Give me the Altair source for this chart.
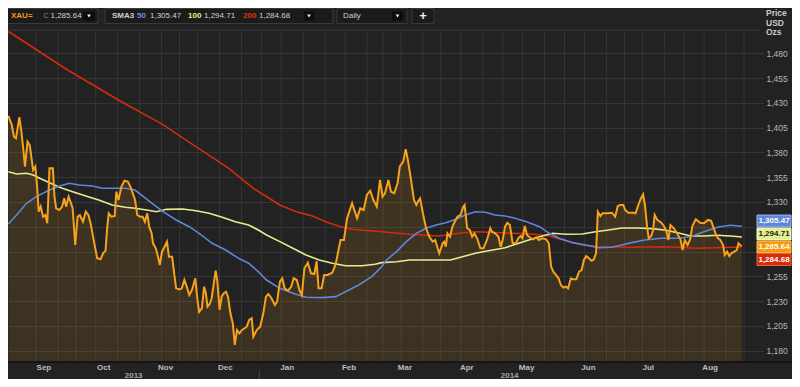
import altair as alt
import pandas as pd

# ---------------- values ----------------
START = pd.Timestamp("2013-08-27")          # day 0 of the "day" offsets below
X_BEGIN, X_END = "2013-08-28", "2014-09-09"  # visible time range
Y_MIN, Y_MAX = 1168.6, 1503.5                # visible price range

# XAU= daily close: (days after START, price)
xau = [
    (1.2, 1416.8), (2.9, 1407.7), (4.0, 1395.9), (5.0, 1394.3), (6.7, 1415.5), (7.8, 1399.6), (8.7, 1382.5), (9.5, 1365.6),
    (10.8, 1390.8), (11.9, 1387.5), (12.8, 1374.1), (13.6, 1362.3), (14.7, 1365.6), (15.6, 1345.4), (16.4, 1320.2), (17.4, 1325.3),
    (18.6, 1315.2), (19.7, 1316.9), (20.7, 1308.5), (21.8, 1364.0), (23.5, 1364.0), (24.3, 1335.4), (25.1, 1323.7), (26.8, 1321.9),
    (28.1, 1325.3), (29.2, 1333.7), (30.1, 1325.3), (31.4, 1335.4), (32.6, 1328.7), (33.4, 1323.7), (34.7, 1286.6), (35.9, 1315.2),
    (37.0, 1316.9), (38.6, 1310.1), (40.0, 1320.2), (41.3, 1316.9), (42.4, 1308.5), (44.1, 1290.0), (45.7, 1273.2), (47.4, 1272.2),
    (48.7, 1278.3), (49.9, 1280.9), (50.7, 1303.5), (51.5, 1318.6), (52.8, 1315.2), (54.5, 1315.9), (55.3, 1340.4), (56.4, 1332.0),
    (57.8, 1345.4), (59.4, 1351.5), (61.1, 1350.5), (62.7, 1343.8), (64.7, 1332.0), (65.8, 1316.9), (67.2, 1315.2), (68.5, 1315.2),
    (69.6, 1310.1), (70.8, 1318.6), (71.8, 1305.1), (73.0, 1298.4), (73.7, 1288.3), (75.1, 1283.3), (76.2, 1274.8), (77.1, 1266.5),
    (78.2, 1279.9), (79.5, 1284.9), (80.7, 1290.0), (81.7, 1274.8), (83.3, 1274.8), (84.5, 1254.7), (85.3, 1242.9), (87.0, 1241.9),
    (88.1, 1242.9), (89.4, 1251.3), (90.6, 1244.6), (91.9, 1236.2), (93.2, 1241.2), (94.9, 1253.0), (96.0, 1231.1), (96.8, 1219.3),
    (98.2, 1222.8), (99.3, 1244.6), (100.2, 1237.9), (101.0, 1224.4), (102.1, 1227.1), (103.1, 1232.9), (104.3, 1249.6), (105.1, 1260.7),
    (105.9, 1251.3), (107.1, 1221.1), (108.1, 1234.5), (109.2, 1237.9), (110.3, 1239.5), (111.3, 1234.5), (112.5, 1217.7), (113.7, 1207.6),
    (114.7, 1185.8), (115.8, 1200.9), (117.0, 1197.6), (118.3, 1200.9), (119.6, 1202.6), (120.7, 1204.2), (121.9, 1211.0), (123.2, 1212.7),
    (124.0, 1194.1), (125.7, 1200.9), (127.4, 1204.2), (129.0, 1217.7), (130.3, 1234.5), (131.5, 1237.2), (133.1, 1232.9), (134.8, 1226.1),
    (135.9, 1229.4), (137.3, 1249.6), (138.5, 1253.0), (139.7, 1242.9), (141.4, 1240.5), (143.0, 1244.6), (144.2, 1253.0), (145.8, 1251.3),
    (147.1, 1241.2), (148.3, 1236.2), (149.6, 1263.1), (151.3, 1268.8), (152.9, 1258.1), (154.6, 1257.4), (155.7, 1270.2), (156.7, 1242.9),
    (158.2, 1242.9), (159.5, 1256.4), (161.1, 1256.4), (163.6, 1258.7), (165.3, 1267.5), (167.7, 1291.7), (169.4, 1291.7), (171.0, 1313.6),
    (173.5, 1328.7), (176.0, 1313.6), (177.6, 1323.7), (179.3, 1321.9), (180.9, 1337.1), (182.6, 1341.4), (184.2, 1332.0), (185.9, 1325.3),
    (187.5, 1352.2), (188.8, 1335.4), (190.0, 1338.8), (191.7, 1352.2), (193.0, 1340.4), (194.6, 1338.8), (196.3, 1348.9), (197.4, 1365.6),
    (199.1, 1370.7), (200.4, 1383.2), (201.6, 1370.7), (202.8, 1355.5), (204.5, 1332.0), (205.7, 1327.0), (206.5, 1330.3), (207.6, 1333.7),
    (209.0, 1318.6), (210.6, 1303.5), (212.2, 1295.0), (213.9, 1290.0), (215.2, 1291.7), (216.4, 1283.3), (217.2, 1278.3), (218.9, 1288.3),
    (219.7, 1290.0), (220.5, 1284.9), (221.3, 1298.4), (222.6, 1295.0), (223.8, 1305.1), (225.0, 1310.1), (226.3, 1315.2), (227.9, 1316.9),
    (229.2, 1325.3), (229.9, 1327.0), (231.2, 1303.5), (232.5, 1301.8), (233.7, 1295.0), (234.8, 1298.4), (236.2, 1293.4), (237.8, 1283.3),
    (239.4, 1283.3), (241.1, 1291.7), (242.8, 1303.5), (243.6, 1300.0), (245.2, 1298.4), (246.9, 1295.0), (248.0, 1284.9), (249.0, 1291.7),
    (250.2, 1305.1), (251.3, 1309.1), (252.6, 1306.8), (254.0, 1288.3), (255.6, 1288.3), (256.8, 1293.4), (258.0, 1295.7), (258.9, 1293.4),
    (260.1, 1305.8), (261.2, 1296.7), (262.5, 1294.4), (264.2, 1292.4), (265.8, 1294.4), (267.1, 1291.7), (268.8, 1293.4), (270.8, 1292.4),
    (272.1, 1288.3), (273.3, 1264.7), (274.4, 1259.7), (275.7, 1256.4), (277.0, 1253.0), (278.2, 1246.3), (279.4, 1243.6), (280.7, 1244.6),
    (281.8, 1242.9), (283.2, 1253.0), (284.3, 1252.0), (285.9, 1252.0), (287.3, 1259.7), (288.6, 1261.4), (289.7, 1271.5), (290.9, 1275.5),
    (292.2, 1273.2), (293.6, 1270.8), (294.7, 1272.2), (295.8, 1278.3), (296.7, 1320.2), (298.0, 1315.9), (299.1, 1318.6), (301.3, 1318.6),
    (303.7, 1319.2), (305.4, 1315.2), (306.7, 1326.0), (307.9, 1327.0), (309.5, 1327.0), (310.4, 1321.9), (312.0, 1319.2), (314.5, 1319.2),
    (315.6, 1318.6), (317.0, 1327.0), (318.3, 1333.7), (319.4, 1337.8), (320.3, 1327.0), (321.4, 1305.1), (322.2, 1293.4), (323.5, 1295.7),
    (324.4, 1301.8), (325.2, 1316.9), (326.5, 1311.9), (328.5, 1309.1), (329.8, 1305.8), (330.9, 1301.8), (332.1, 1291.7), (333.1, 1306.8),
    (334.8, 1303.5), (336.4, 1298.4), (338.1, 1292.4), (339.2, 1281.6), (340.3, 1291.7), (341.7, 1286.6), (343.0, 1292.4), (344.1, 1305.8),
    (345.8, 1312.6), (348.0, 1309.1), (349.9, 1308.5), (351.9, 1311.9), (353.5, 1311.1), (354.5, 1305.1), (355.7, 1298.4), (356.9, 1293.4),
    (358.1, 1291.7), (359.5, 1286.6), (360.3, 1276.5), (361.5, 1279.9), (362.6, 1275.5), (363.6, 1278.3), (365.1, 1279.9), (366.4, 1281.6),
    (367.2, 1288.3), (368.0, 1286.6), (368.9, 1285.64),
]

# SMA 50
sma50 = [
    (1.2, 1307.8), (5.3, 1316.9), (10.3, 1328.7), (15.2, 1335.4), (21.8, 1342.1), (26.8, 1346.1), (31.7, 1348.9), (36.7, 1347.2),
    (43.3, 1346.1), (48.2, 1343.8), (59.8, 1343.8), (64.7, 1342.1), (72.1, 1330.3), (78.7, 1320.2), (85.3, 1311.9), (91.9, 1305.1),
    (96.8, 1298.4), (103.4, 1288.3), (110.1, 1281.6), (116.6, 1273.2), (121.6, 1268.2), (126.5, 1259.7), (130.6, 1251.3), (137.3, 1242.9),
    (143.8, 1237.9), (150.4, 1233.9), (158.7, 1233.5), (165.3, 1234.5), (170.2, 1239.5), (176.8, 1246.3), (183.4, 1254.7), (188.3, 1264.7),
    (190.8, 1271.5), (195.8, 1279.9), (200.7, 1290.0), (205.7, 1298.4), (210.6, 1303.5), (215.6, 1306.8), (220.5, 1309.1), (225.4, 1312.6),
    (230.4, 1316.9), (235.3, 1320.2), (240.3, 1319.6), (245.2, 1316.9), (250.2, 1315.9), (254.3, 1314.2), (260.9, 1310.1), (267.5, 1305.1),
    (272.4, 1298.4), (277.4, 1293.4), (284.0, 1289.0), (290.6, 1286.6), (297.2, 1283.9), (303.7, 1284.3), (308.7, 1286.6), (313.6, 1289.0),
    (320.3, 1291.7), (328.5, 1293.4), (336.7, 1293.4), (343.3, 1295.0), (349.9, 1300.0), (356.5, 1304.5), (363.1, 1306.5), (368.9, 1305.47),
]

# SMA 100
sma100 = [
    (1.2, 1360.6), (5.3, 1358.3), (10.3, 1359.0), (13.6, 1357.2), (16.9, 1353.9), (21.8, 1349.5), (26.8, 1344.8), (33.4, 1340.4),
    (40.0, 1336.1), (46.5, 1332.0), (53.2, 1327.0), (59.8, 1324.7), (64.7, 1323.7), (70.5, 1321.9), (75.4, 1320.2), (80.4, 1322.6),
    (88.6, 1322.9), (95.2, 1321.2), (101.8, 1318.6), (108.4, 1314.6), (115.0, 1310.1), (121.6, 1306.8), (126.5, 1301.8), (130.6, 1296.7),
    (137.3, 1290.0), (143.8, 1283.3), (150.4, 1276.5), (157.0, 1271.5), (163.6, 1268.2), (170.2, 1265.7), (178.5, 1265.7), (185.0, 1267.2),
    (188.3, 1268.8), (195.8, 1269.8), (202.3, 1271.5), (212.2, 1271.5), (222.9, 1271.5), (228.8, 1274.8), (235.3, 1278.3), (241.9, 1280.9),
    (250.2, 1283.9), (254.3, 1286.6), (260.9, 1291.0), (267.5, 1295.0), (274.1, 1298.4), (280.7, 1297.4), (288.9, 1297.7), (295.5, 1300.0),
    (302.1, 1301.8), (308.7, 1303.8), (317.0, 1303.8), (323.5, 1303.1), (330.2, 1301.8), (336.7, 1299.0), (343.3, 1295.7), (349.9, 1295.7),
    (356.5, 1296.4), (363.1, 1295.7), (368.9, 1294.71),
]

# SMA 200
sma200 = [
    (1.2, 1502.0), (30.1, 1464.2), (56.3, 1432.9), (78.7, 1408.0), (95.2, 1385.8), (111.7, 1364.0), (124.0, 1343.8), (137.3, 1327.0),
    (145.5, 1320.2), (153.7, 1315.9), (160.3, 1310.1), (167.7, 1305.1), (173.5, 1302.5), (188.3, 1300.0), (202.2, 1297.4), (217.0, 1295.7),
    (226.9, 1298.4), (235.3, 1300.0), (247.7, 1299.0), (264.0, 1297.7), (272.4, 1295.7), (280.7, 1291.0), (288.9, 1286.6), (297.2, 1284.9),
    (313.6, 1284.3), (330.2, 1284.9), (346.6, 1283.3), (368.9, 1284.68),
]

last_close = 1285.64
sma_last = [1305.47, 1294.71, 1284.68]          # SMA 50 / 100 / 200
sma_periods = ["50", "100", "200"]

month_names = ["Sep", "Oct", "Nov", "Dec", "Jan", "Feb", "Mar", "Apr", "May", "Jun", "Jul", "Aug"]
month_mid = ["2013-09-15", "2013-10-15", "2013-11-15", "2013-12-15", "2014-01-15", "2014-02-15",
             "2014-03-15", "2014-04-15", "2014-05-15", "2014-06-15", "2014-07-15", "2014-08-15"]
year_names = ["2013", "2014"]
y_ticks = list(range(1180, 1481, 25))
y_hidden = [1280, 1305]                      # labels covered by the last-value tags
grid_days = [15, 26, 35, 45, 56, 67, 78, 87, 96, 107, 118, 128, 138, 149, 160, 170, 181, 189, 198, 209,
             218, 228, 239, 249, 259, 270, 280, 290, 301, 310, 319, 330, 340, 350, 361, 370]

# ---------------- styling ----------------
W, H = 752, 332
FONT = "Liberation Sans"
BG = "#222222"
GRID = "#353535"
ORANGE, BLUE, YELLOW, RED = "#f7a21b", "#5f86d8", "#e3ef8e", "#d42b0b"


def frame(pairs, name):
    d = pd.DataFrame(pairs, columns=["day", "price"])
    d["series"] = name
    return d


data = pd.concat([frame(xau, "XAU"), frame(sma50, "SMA50"), frame(sma100, "SMA100"), frame(sma200, "SMA200")],
                 ignore_index=True)
data["date"] = START + pd.to_timedelta(data["day"], unit="D")

xscale = alt.Scale(domain=[alt.DateTime(year=2013, month=8, date=28), alt.DateTime(year=2014, month=9, date=9)])
yscale = alt.Scale(domain=[Y_MIN, Y_MAX], zero=False, nice=False)
hidden_expr = " || ".join(f"datum.value == {v}" for v in y_hidden)
yaxis = alt.Axis(orient="right", values=y_ticks, format=",.0f", title=None, domain=False,
                 labelExpr=f"({hidden_expr}) ? '' : format(datum.value, ',.0f')",
                 ticks=True, tickSize=3, tickColor="#3c3c3c", grid=True, gridColor=GRID, gridWidth=1,
                 labelColor="#b8b8b8", labelFont=FONT, labelFontSize=8.5, labelPadding=3)
X = alt.X("date:T", scale=xscale, axis=None)
Y = alt.Y("price:Q", scale=yscale, axis=yaxis)

base = alt.Chart(data)

grid_df = pd.DataFrame({"date": START + pd.to_timedelta(grid_days, unit="D")})
vgrid = alt.Chart(grid_df).mark_rule(color=GRID, strokeWidth=1).encode(x=X, y=alt.value(0), y2=alt.value(H))

fill = alt.Gradient(gradient="linear", x1=0, x2=0, y1=0, y2=1,
                    stops=[alt.GradientStop(color="rgba(247,162,27,0.14)", offset=0),
                           alt.GradientStop(color="rgba(247,162,27,0.025)", offset=1)])
area = base.transform_filter(alt.datum.series == "XAU").mark_area(color=fill, clip=True).encode(
    x=X, y=Y, y2=alt.value(H))


def sma_line(name, color, width=1.6):
    return base.transform_filter(alt.datum.series == name).mark_line(
        color=color, strokeWidth=width, clip=True).encode(x=X, y=Y)


red_line = sma_line("SMA200", RED)
yellow_line = sma_line("SMA100", YELLOW)
blue_line = sma_line("SMA50", BLUE)
orange_line = sma_line("XAU", ORANGE, 2.0)

one = pd.DataFrame({"k": [0]})


def deco_rect(x, x2, y, y2, fill_c, stroke=None):
    kw = {"fill": fill_c}
    if stroke:
        kw.update(stroke=stroke, strokeWidth=1)
    return alt.Chart(one).mark_rect(**kw).encode(
        x=alt.value(x), x2=alt.value(x2), y=alt.value(y), y2=alt.value(y2))


def deco_text(t, x, y, color, size=8, weight="normal", align="left"):
    return alt.Chart(one).mark_text(text=t, font=FONT, fontSize=size, fontWeight=weight, color=color,
                                    align=align, baseline="middle").encode(x=alt.value(x), y=alt.value(y))


def deco_rule(x, x2, y, y2, color, width=1):
    return alt.Chart(one).mark_rule(color=color, strokeWidth=width).encode(
        x=alt.value(x), x2=alt.value(x2), y=alt.value(y), y2=alt.value(y2))


def tri(x, y):
    return alt.Chart(one).mark_point(shape="triangle-down", size=14, filled=True, color="#eeeeee",
                                     opacity=1).encode(x=alt.value(x), y=alt.value(y))


# header (toolbar)
HY0, HY1, TY = -21.5, -6.5, -14
header = [
    deco_rect(-3, 90, HY0, HY1, "#1b1b1b", "#3a3a3a"),
    deco_rect(97, 325, HY0, HY1, "#1b1b1b", "#3a3a3a"),
    deco_rect(329, 399, HY0, HY1, "#1b1b1b", "#3a3a3a"),
    deco_rect(404, 426, HY0, HY1, "#1b1b1b", "#3a3a3a"),
    deco_rect(75, 87, -18.5, -9.5, "#0d0d0d"),
    deco_rect(296, 306, -18.5, -9.5, "#0d0d0d"),
    deco_rect(384, 395, -18.5, -9.5, "#0d0d0d"),
    tri(81, TY), tri(301, TY), tri(389.5, TY),
    deco_text("XAU=", 3, TY, "#f39c12", weight="bold"),
    deco_text("C", 35.5, TY, "#8a8a8a", size=7),
    deco_text(f"{last_close:,.2f}", 42.5, TY, "#d0d0d0"),
    deco_text("SMA3", 104, TY, "#d0d0d0", weight="bold"),
    deco_text(sma_periods[0], 129, TY, "#6b8ee0", weight="bold"),
    deco_text(f"{sma_last[0]:,.2f}", 142, TY, "#d0d0d0"),
    deco_text(sma_periods[1], 180, TY, "#e6f27a", weight="bold"),
    deco_text(f"{sma_last[1]:,.2f}", 196, TY, "#d0d0d0"),
    deco_text(sma_periods[2], 235, TY, "#e0330a", weight="bold"),
    deco_text(f"{sma_last[2]:,.2f}", 251, TY, "#d0d0d0"),
    deco_text("Daily", 335, TY, "#d0d0d0"),
    deco_text("+", 415, TY, "#f0f0f0", size=13, weight="bold", align="center"),
    deco_rule(0, W, 0, 0, "#3a3a3a"),
    deco_rule(0, W + 32, H, H, "#141414", 2),
]

# axis title on the right
ytitle = [deco_text(t, W + 6, y, "#c8c8c8", size=8.5, weight="bold")
          for t, y in zip(["Price", "USD", "Ozs"], [-17, -7.5, 2])]

# month / year labels
months_df = pd.DataFrame({"m": month_names, "date": pd.to_datetime(month_mid)})
month_lbl = alt.Chart(months_df).mark_text(font=FONT, fontSize=8, fontWeight="bold", color="#bdbdbd",
                                           baseline="middle").encode(x=X, y=alt.value(H + 6), text="m:N")
jan1 = pd.Timestamp("2014-01-01")
b, e = pd.Timestamp(X_BEGIN), pd.Timestamp(X_END)
years_df = pd.DataFrame({"yname": year_names, "date": [b + (jan1 - b) / 2, jan1 + (e - jan1) / 2]})
year_lbl = alt.Chart(years_df).mark_text(font=FONT, fontSize=8, fontWeight="bold", color="#a8a8a8",
                                         baseline="middle").encode(x=X, y=alt.value(H + 14), text="yname:N")
year_sep = alt.Chart(pd.DataFrame({"date": [jan1]})).mark_rule(color="#4a4a4a").encode(
    x=X, y=alt.value(H + 9), y2=alt.value(H + 17))

# last-value tags on the right
BOX = "M-1,-0.35L1,-0.35L1,0.35L-1,0.35Z"
TAG_X = W + 14
tags = []
for val, fc, tc, sc, off in [(sma_last[0], BLUE, "#ffffff", "#9fb8f2", -5.3),
                             (sma_last[1], YELLOW, "#1a1a1a", "#f6fbc8", -3),
                             (last_close, "#f79a0b", "#ffffff", "#ffc060", 1),
                             (sma_last[2], RED, "#ffffff", "#f06040", 12.6)]:
    tdf = pd.DataFrame({"price": [val], "label": [f"{val:,.2f}"]})
    tags.append(alt.Chart(tdf).mark_point(shape=BOX, size=1156, filled=True, fill=fc, stroke=sc, strokeWidth=1,
                                          opacity=1, yOffset=off).encode(x=alt.value(TAG_X), y=Y))
    tags.append(alt.Chart(tdf).mark_text(font=FONT, fontSize=8, fontWeight="bold", color=tc, yOffset=off,
                                         baseline="middle").encode(x=alt.value(TAG_X), y=Y, text="label:N"))

chart = alt.layer(
    vgrid, area, red_line, yellow_line, blue_line, orange_line,
    *header, *ytitle, month_lbl, year_lbl, year_sep, *tags
).properties(
    width=W, height=H,
    padding={"left": 0, "top": 22, "right": 32, "bottom": 17},
    autosize=alt.AutoSizeParams(type="none"),
    background=BG,
).configure_view(strokeWidth=0)

chart.save("out.html", embed_options={"renderer": "svg", "actions": False})
